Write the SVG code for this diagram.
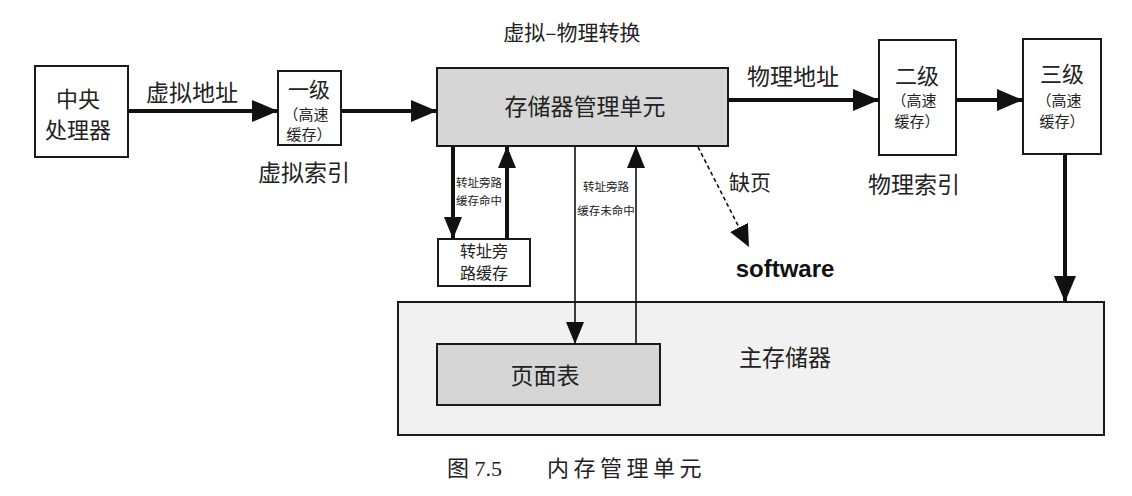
<svg xmlns="http://www.w3.org/2000/svg" width="1132" height="496" viewBox="0 0 1132 496">
  <style>
    .box { stroke: #1a1a1a; stroke-width: 2; fill: #ffffff; }
    .gray { fill: #d6d6d6; }
    .light { fill: #f1f1f1; }
    .t { font-family: "Noto Sans CJK SC", "DejaVu Sans", sans-serif; fill: #222; text-anchor: middle; }
    .thick { stroke: #111; stroke-width: 4; fill: none; }
    .thin { stroke: #111; stroke-width: 1.6; fill: none; }
    .dash { stroke: #111; stroke-width: 1.6; fill: none; stroke-dasharray: 4 3; }
  </style>
  <defs>
    <marker id="bigHead" viewBox="0 0 26 22" refX="26" refY="11" markerWidth="26" markerHeight="22" markerUnits="userSpaceOnUse" orient="auto">
      <path d="M0,0 L26,11 L0,22 Z" fill="#111"/>
    </marker>
    <marker id="smallHead" viewBox="0 0 22 18" refX="22" refY="9" markerWidth="22" markerHeight="18" markerUnits="userSpaceOnUse" orient="auto">
      <path d="M0,0 L22,9 L0,18 Z" fill="#111"/>
    </marker>
    <marker id="dashHead" viewBox="0 0 22 20" refX="22" refY="10" markerWidth="22" markerHeight="20" markerUnits="userSpaceOnUse" orient="auto">
      <path d="M0,0 L22,10 L0,20 Z" fill="#111"/>
    </marker>
  </defs>

  <rect width="1132" height="496" fill="#ffffff"/>

  <!-- main memory (background container) -->
  <g id="main-memory">
    <rect class="box light" x="398" y="302" width="706" height="133"/>
    <text class="t" x="785" y="366" font-size="23">主存储器</text>
  </g>

  <g id="page-table">
    <rect class="box gray" x="437" y="344" width="223" height="61"/>
    <text class="t" x="545" y="384" font-size="23">页面表</text>
  </g>

  <g id="cpu">
    <rect class="box" x="35" y="66" width="93" height="91"/>
    <text class="t" x="78" y="107" font-size="22">中央</text>
    <text class="t" x="78" y="138" font-size="22">处理器</text>
  </g>

  <g id="l1-cache">
    <rect class="box" x="278" y="71" width="63" height="74"/>
    <text class="t" x="309" y="97" font-size="21">一级</text>
    <text class="t" x="306" y="120" font-size="15">（高速</text>
    <text class="t" x="309" y="140" font-size="15">缓存）</text>
  </g>

  <g id="mmu">
    <rect class="box gray" x="437" y="68" width="291" height="78"/>
    <text class="t" x="585" y="115" font-size="23">存储器管理单元</text>
  </g>

  <g id="tlb">
    <rect class="box" x="438" y="239" width="92" height="47"/>
    <text class="t" x="484" y="257" font-size="16">转址旁</text>
    <text class="t" x="484" y="279" font-size="16">路缓存</text>
  </g>

  <g id="l2-cache">
    <rect class="box" x="879" y="40" width="77" height="115"/>
    <text class="t" x="917" y="84" font-size="22">二级</text>
    <text class="t" x="914" y="106" font-size="15">（高速</text>
    <text class="t" x="917" y="127" font-size="15">缓存）</text>
  </g>

  <g id="l3-cache">
    <rect class="box" x="1023" y="39" width="78" height="115"/>
    <text class="t" x="1062" y="82" font-size="22">三级</text>
    <text class="t" x="1059" y="106" font-size="15">（高速</text>
    <text class="t" x="1062" y="127" font-size="15">缓存）</text>
  </g>

  <g id="connectors">
    <!-- virtual path -->
    <line class="thick" x1="128" y1="111" x2="278" y2="111" marker-end="url(#bigHead)"/>
    <line class="thick" x1="341" y1="111" x2="437" y2="111" marker-end="url(#bigHead)"/>
    <!-- physical path -->
    <line class="thick" x1="728" y1="100" x2="879" y2="100" marker-end="url(#bigHead)"/>
    <line class="thick" x1="956" y1="100" x2="1023" y2="100" marker-end="url(#bigHead)"/>
    <line class="thick" x1="1065" y1="154" x2="1065" y2="302" marker-end="url(#bigHead)"/>
    <!-- TLB lookup / hit -->
    <line class="thick" x1="453" y1="146" x2="453" y2="239" marker-end="url(#smallHead)"/>
    <line class="thick" x1="507" y1="239" x2="507" y2="146" marker-end="url(#smallHead)"/>
    <!-- page table walk on TLB miss -->
    <line class="thin" x1="575" y1="146" x2="575" y2="344" marker-end="url(#smallHead)"/>
    <line class="thin" x1="636" y1="344" x2="636" y2="146" marker-end="url(#smallHead)"/>
    <!-- page fault -->
    <line class="dash" x1="698" y1="147" x2="749" y2="247" marker-end="url(#dashHead)"/>
  </g>

  <g id="labels">
    <text class="t" x="192" y="101" font-size="23">虚拟地址</text>
    <text class="t" x="304" y="181" font-size="23">虚拟索引</text>
    <text class="t" x="572" y="40" font-size="21">虚拟–物理转换</text>
    <text class="t" x="793" y="85" font-size="23">物理地址</text>
    <text class="t" x="914" y="193" font-size="23">物理索引</text>
    <text class="t" x="750" y="190" font-size="21">缺页</text>
    <text class="t" x="479" y="187" font-size="11.5">转址旁路</text>
    <text class="t" x="479" y="205" font-size="11.5">缓存命中</text>
    <text class="t" x="606" y="191" font-size="11.5">转址旁路</text>
    <text class="t" x="606" y="215" font-size="11.5">缓存未命中</text>
    <text x="785" y="277" font-family="Liberation Sans, Arial, sans-serif" font-weight="bold" font-size="24" fill="#111" text-anchor="middle">software</text>
    <text x="447" y="476" font-family="Liberation Serif, 'Noto Sans CJK SC', serif" font-size="22" fill="#222">图 7.5</text>
    <text x="547" y="476" font-family="'Noto Sans CJK SC', serif" font-size="22" letter-spacing="4.5" fill="#222">内存管理单元</text>
  </g>
</svg>
